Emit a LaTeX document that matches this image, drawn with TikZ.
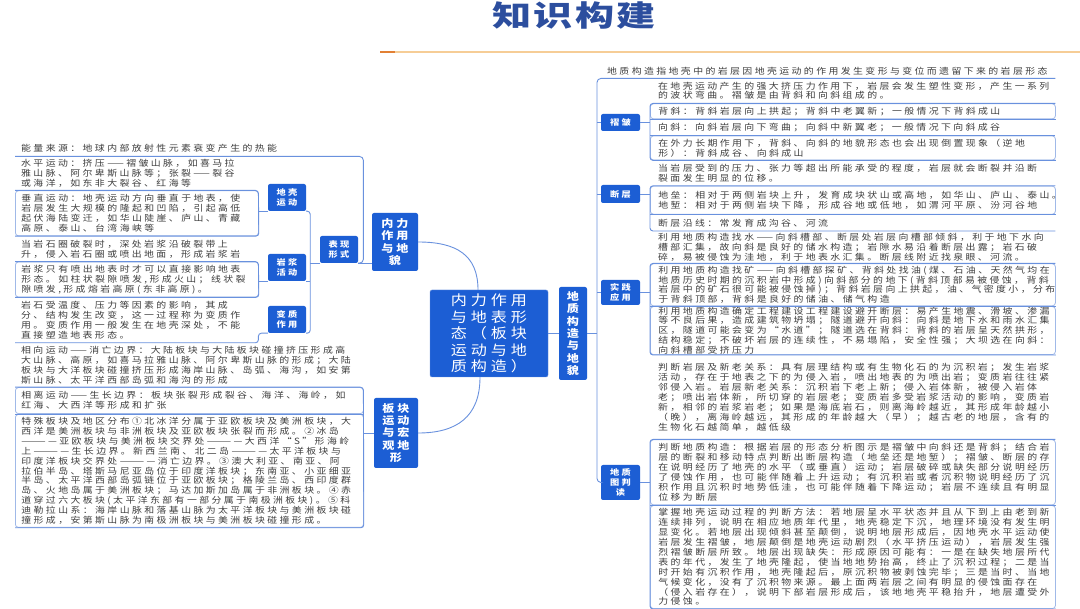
\documentclass[tikz,border=0pt]{standalone}
\usepackage{fontspec}
\setmainfont{Noto Sans CJK SC}[FakeStretch=1.15,LetterSpace=28]
\newfontfamily\titlefont{Noto Sans CJK SC}[FakeStretch=1.35,LetterSpace=8]
\usetikzlibrary{positioning}

\definecolor{mapblue}{RGB}{28,94,212}
\definecolor{linkblue}{RGB}{105,145,222}
\definecolor{boxline}{RGB}{160,185,232}
\definecolor{txtgray}{RGB}{62,62,62}
\definecolor{titleblue}{RGB}{44,78,158}
\definecolor{lineorange}{RGB}{246,205,150}
\definecolor{darkorange}{RGB}{226,128,52}

\newcommand\leaffont{\fontsize{8.6}{9.9}\selectfont}
\newcommand\tagfont{\fontsize{8}{9.6}\selectfont}
\newcommand\bigtagfont{\fontsize{10.5}{12.3}\selectfont}
\newcommand\corefont{\fontsize{14}{16.5}\selectfont}

\begin{document}
\begin{tikzpicture}[x=1pt,y=-1pt,
    leafline/.style={rectangle,anchor=north west,inner xsep=6pt,inner ysep=0pt,
                     align=left,text=txtgray,font=\leaffont},
    leafbox/.style={leafline,draw=boxline,line width=0.8pt,rounded corners=3pt},
    rside/.style={minimum width=405pt,text width=389pt,inner xsep=8pt},
    lside/.style={minimum width=243pt,text width=231pt},
    lwide/.style={minimum width=348pt,text width=336pt},
    under/.style={below=0pt of #1.south west,anchor=north west},
    bluetag/.style={rectangle,fill=mapblue,rounded corners=2pt,text=white,
                    align=center,inner sep=0pt,font=\tagfont\bfseries},
    bigtag/.style={bluetag,font=\bigtagfont\bfseries},
    link/.style={draw=linkblue,line width=0.9pt}]

  \useasboundingbox[fill=white] (0,0) rectangle (1080,609);

  \node[font=\titlefont\fontsize{29}{30}\selectfont\bfseries,text=titleblue] (ttl) at (574,15) {知识构建};
  \draw[lineorange,line width=1.5pt] (380,52) -- (1080,52);
  \draw[darkorange,line width=2pt] (380,52) -- (395,52);

  \node[bluetag,font=\corefont,draw=linkblue,minimum width=118pt,minimum height=87pt] (ct) at (489,333.5)
       {内力作用\\与地表形\\态（板块\\运动与地\\质构造）};
  \node[bigtag,minimum width=46pt,minimum height=58pt] (nl) at (395,242) {内力\\作用\\与地\\貌};
  \node[bigtag,minimum width=44pt,minimum height=70pt] (bk) at (396,433) {板块\\运动\\与宏\\观地\\形};
  \node[bigtag,minimum width=28pt,minimum height=93pt] (dz) at (573,333.5) {地\\质\\构\\造\\与\\地\\貌};

  \node[bluetag,minimum width=38pt,minimum height=27pt] (bx) at (339,249.5) {表现\\形式};
  \node[bluetag,minimum width=38pt,minimum height=27pt] (dk) at (287,197.5) {地壳\\运动};
  \node[bluetag,minimum width=38pt,minimum height=27pt] (yj) at (287,267.5) {岩浆\\活动};
  \node[bluetag,minimum width=38pt,minimum height=27pt] (bz) at (287,319.5) {变质\\作用};

  \node[bluetag,minimum width=39pt,minimum height=17pt] (zz) at (620.5,122.5) {褶皱};
  \node[bluetag,minimum width=39pt,minimum height=18pt] (dc) at (620.5,194) {断层};
  \node[bluetag,minimum width=39pt,minimum height=25pt] (sj) at (620.5,292.5) {实践\\应用};
  \node[bluetag,minimum width=39pt,minimum height=35pt] (dt) at (620.5,482.5) {地质\\图判\\读};

  % right side
  \node[leafline,minimum width=458pt,text width=438pt,inner xsep=10pt,minimum height=14pt] (top) at (597,64)
       {地质构造指地壳中的岩层因地壳运动的作用发生变形与变位而遗留下来的岩层形态};
  \node[leafline,rside,minimum height=25pt] (z1) at (650,78)
       {在地壳运动产生的强大挤压力作用下，岩层会发生塑性变形，产生一系列\\的波状弯曲。褶皱是由背斜和向斜组成的。};
  \node[leafbox,rside,minimum height=15pt,under=z1] (z2) {背斜：背斜岩层向上拱起；背斜中老翼新；一般情况下背斜成山};
  \node[leafline,rside,minimum height=16pt,under=z2] (z3) {向斜：向斜岩层向下弯曲；向斜中新翼老；一般情况下向斜成谷};
  \node[leafbox,rside,minimum height=24pt,under=z3] (z4)
       {在外力长期作用下，背斜、向斜的地貌形态也会出现倒置现象（逆地\\形）：背斜成谷、向斜成山};
  \node[leafline,rside,minimum height=25pt,under=z4] (d1)
       {当岩层受到的压力、张力等超出所能承受的程度，岩层就会断裂并沿断\\裂面发生明显的位移。};
  \node[leafbox,rside,minimum height=28pt,under=d1] (d2)
       {地垒：相对于两侧岩块上升，发育成块状山或高地，如华山、庐山、泰山。\\地堑：相对于两侧岩块下降，形成谷地或低地，如渭河平原、汾河谷地};
  \node[leafline,rside,minimum height=16pt,under=d2] (d3) {断层沿线：常发育成沟谷、河流};
  \node[leafline,rside,minimum height=32pt,under=d3] (s1)
       {利用地质构造找水——向斜槽部、断层处岩层向槽部倾斜，利于地下水向\\槽部汇集，故向斜是良好的储水构造；岩隙水易沿着断层出露；岩石破\\碎，易被侵蚀为洼地，利于地表水汇集。断层线附近找泉眼、河流。};
  \node[leafbox,rside,minimum height=42pt,under=s1] (s2)
       {利用地质构造找矿——向斜槽部探矿、背斜处找油(煤、石油、天然气均在\\地质历史时期的沉积岩中形成)向斜部分的地下(背斜顶部易被侵蚀，背斜\\岩层中的矿石很可能被侵蚀掉)；背斜岩层向上拱起，油、气密度小，分布\\于背斜顶部，背斜是良好的储油、储气构造};
  \node[leafbox,rside,minimum height=48pt,under=s2] (s3)
       {利用地质构造确定工程建设工程建设避开断层：易产生地震、滑坡、渗漏\\等不良后果，造成建筑物坍塌；隧道避开向斜：向斜是地下水和雨水汇集\\区，隧道可能会变为“水道”；隧道选在背斜：背斜的岩层呈天然拱形，\\结构稳定；不破坏岩层的连续性，不易塌陷，安全性强；大坝选在向斜：\\向斜槽部受挤压力};
  \node[leafline,rside,minimum height=84pt,under=s3] (p1)
       {判断岩层及新老关系：具有层理结构或有生物化石的为沉积岩；发生岩浆\\活动，存在于地表之下的为侵入岩，喷出地表的为喷出岩；变质岩往往紧\\邻侵入岩。岩层新老关系：沉积岩下老上新；侵入岩体新，被侵入岩体\\老；喷出岩体新，所切穿的岩层老；变质岩多受岩浆活动的影响，变质岩\\新，相邻的岩浆岩老；如果是海底岩石，则离海岭越近，其形成年龄越小\\（晚），离海岭越远，其形成的年龄越大（早）；越古老的地层，含有的\\生物化石越简单，越低级};
  \node[leafbox,rside,minimum height=65pt,under=p1] (p2)
       {判断地质构造：根据岩层的形态分析图示是褶皱中向斜还是背斜；结合岩\\层的断裂和移动特点判断出断层构造（地垒还是地堑）；褶皱、断层的存\\在说明经历了地壳的水平（或垂直）运动；岩层破碎或缺失部分说明经历\\了侵蚀作用，也可能伴随着上升运动；有沉积岩或者沉积物说明经历了沉\\积作用且沉积时地势低洼，也可能伴随着下降运动；岩层不连续且有明显\\位移为断层};
  \node[leafbox,rside,minimum height=103pt,under=p2] (p3)
       {掌握地壳运动过程的判断方法：若地层呈水平状态并且从下到上由老到新\\连续排列，说明在相应地质年代里，地壳稳定下沉，地理环境没有发生明\\显变化。若地层出现倾斜甚至颠倒，说明地层形成后，因地壳水平运动使\\岩层发生褶皱，地层颠倒是地壳运动剧烈（水平挤压运动），岩层发生强\\烈褶皱断层所致。地层出现缺失：形成原因可能有：一是在缺失地层所代\\表的年代，发生了地壳隆起，使当地地势抬高，终止了沉积过程；二是当\\时开始有沉积作用，地壳隆起后，原沉积物被剥蚀完毕；三是当时、当地\\气候变化，没有了沉积物来源。最上面两岩层之间有明显的侵蚀面存在\\（侵入岩存在），说明下部岩层形成后，该地地壳平稳抬升，地层遭受外\\力侵蚀。};

  % left side
  \node[leafline,lwide,minimum height=16pt] (e0) at (15,140) {能量来源：地球内部放射性元素衰变产生的热能};
  \node[leafline,lside,minimum height=34pt] (h1) at (15,156)
       {水平运动：挤压——褶皱山脉，如喜马拉\\雅山脉、阿尔卑斯山脉等；张裂——裂谷\\或海洋，如东非大裂谷、红海等};
  \node[leafbox,lside,minimum height=45pt,under=h1] (h2)
       {垂直运动：地壳运动方向垂直于地表，使\\岩层发生大规模的隆起和凹陷，引起高低\\起伏海陆变迁，如华山陡崖、庐山、青藏\\高原、泰山、台湾海峡等};
  \node[leafline,lside,minimum height=25pt,under=h2] (y1)
       {当岩石圈破裂时，深处岩浆沿破裂带上\\升，侵入岩石圈或喷出地面，形成岩浆岩};
  \node[leafbox,lside,minimum height=35pt,under=y1] (y2)
       {岩浆只有喷出地表时才可以直接影响地表\\形态。如柱状裂隙喷发,形成火山；线状裂\\隙喷发,形成熔岩高原(东非高原)。};
  \node[leafline,lside,minimum height=45pt,under=y2] (b1)
       {岩石受温度、压力等因素的影响，其成\\分、结构发生改变，这一过程称为变质作\\用。变质作用一般发生在地壳深处，不能\\直接塑造地表形态。};
  \node[leafline,lwide,minimum height=44pt,under=b1] (x1)
       {相向运动——消亡边界：大陆板块与大陆板块碰撞挤压形成高\\大山脉、高原，如喜马拉雅山脉、阿尔卑斯山脉的形成；大陆\\板块与大洋板块碰撞挤压形成海岸山脉、岛弧、海沟，如安第\\斯山脉、太平洋西部岛弧和海沟的形成};
  \node[leafbox,lwide,minimum height=26pt,under=x1] (x2)
       {相离运动——生长边界：板块张裂形成裂谷、海洋、海岭，如\\红海、大西洋等形成和扩张};
  \node[leafbox,lwide,minimum height=113pt,under=x2] (x3)
       {特殊板块及地区分布①北冰洋分属于亚欧板块及美洲板块，大\\西洋是美洲板块与非洲板块及亚欧板块张裂而形成。②冰岛\\————亚欧板块与美洲板块交界处————大西洋“S”形海岭\\上————生长边界。新西兰南、北二岛————太平洋板块与\\印度洋板块交界处————消亡边界。③澳大利亚、南亚、阿\\拉伯半岛、塔斯马尼亚岛位于印度洋板块；东南亚、小亚细亚\\半岛、太平洋西部岛弧链位于亚欧板块；格陵兰岛、西印度群\\岛、火地岛属于美洲板块；马达加斯加岛属于非洲板块。④赤\\道穿过六大板块(太平洋东部有一部分属于南极洲板块)。⑤科\\迪勒拉山系：海岸山脉和落基山脉为太平洋板块与美洲板块碰\\撞形成，安第斯山脉为南极洲板块与美洲板块碰撞形成。};

  % centre links
  \draw[link] (ct.east) -- (dz.west);
  \draw[link] ([xshift=-11pt]ct.north) .. controls +(0,-35) and +(38,0) .. (nl.east);
  \draw[link] ([xshift=-9pt]ct.south) .. controls +(0,40) and +(38,0) .. (bk.east);

  % right trunk
  \draw[link] (dz.east) -- (dz.east -| top.south west);
  \draw[link,rounded corners=4pt] (top.south east) -- (top.south west) |- (dt.west);
  \foreach \t in {zz,dc,sj} \draw[link] (\t.west -| top.south west) -- (\t.west);
  \foreach \t/\a in {zz/z1,dc/d1,sj/s1,dt/p1} \draw[link] (\t.east) -- (\t.east -| \a.west);
  \draw[link,rounded corners=3pt] (z1.south east) -- (z1.south west) -- (z4.south west) -- (z4.south east);
  \draw[link,rounded corners=3pt] (d1.south east) -- (d1.south west) -- (d3.south west) -- (d3.south east);
  \draw[link,rounded corners=3pt] (s1.south east) -- (s1.south west) -- (s3.south west) -- (s3.south east);
  \draw[link,rounded corners=3pt] (p1.south east) -- (p1.south west) -- (p3.south west) -- (p3.south east);
  \foreach \n in {z2,z3,d2,s2,p2} \draw[link] (\n.south west) -- (\n.south east);

  % left side
  \draw[link,rounded corners=4pt] (e0.south west) -- (e0.south east) |- (bx.south east);
  \draw[link] (bx.south east) -- (bx.south east -| nl.west);
  \draw[link,rounded corners=3pt] (dk.south east) -- ++(4,0) |- (bz.south east);
  \draw[link] (yj.south east) -- ++(4,0);
  \draw[link] (bx.south west) -- ++(-10,0);
  \draw[link,rounded corners=3pt] (h1.south west) -- (h1.south east) -- (h2.south east) -- (h2.south west);
  \draw[link] (dk.south west) -- (dk.south west -| h1.south east);
  \draw[link,rounded corners=3pt] (y1.south west) -- (y1.south east) -- (y2.south east) -- (y2.south west);
  \draw[link] (yj.south west) -- (yj.south west -| y1.south east);
  \draw[link,rounded corners=3pt] (b1.south west) -- (b1.south east) |- (bz.south west);
  \draw[link,rounded corners=3pt] (x1.south west) -- (x1.south east) -- (x3.south east) -- (x3.south west);
  \draw[link] (x2.south west) -- (x2.south east);
  \draw[link] (bk.west) -- (bk.west -| x1.south east);
\end{tikzpicture}
\end{document}
